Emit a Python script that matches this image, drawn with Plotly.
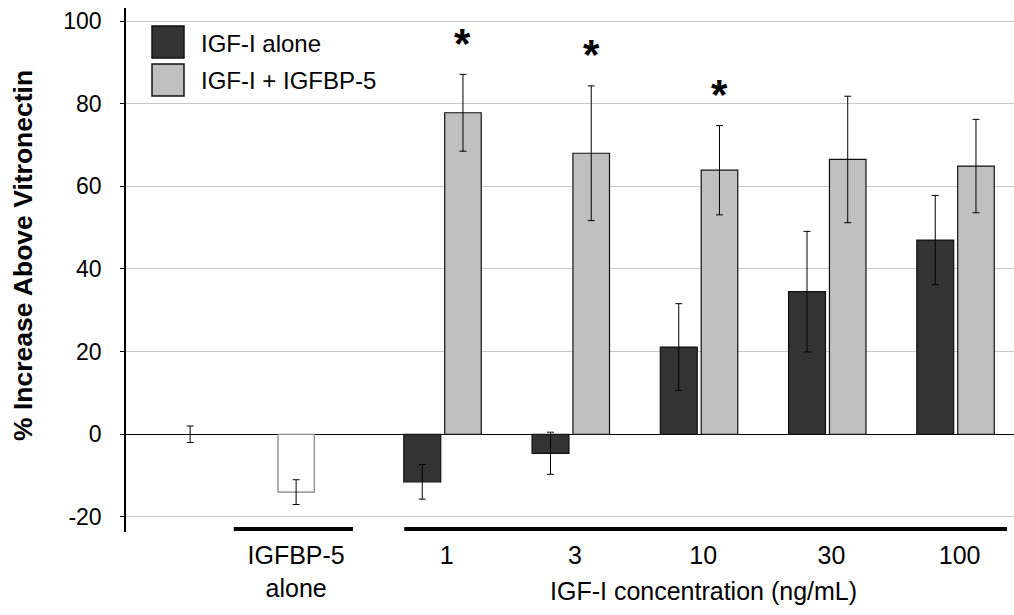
import plotly.graph_objects as go

# ---- data -------------------------------------------------------------
conc_labels = ["1", "3", "10", "30", "100"]          # IGF-I concentration (ng/mL)
igf_alone = [-11.5, -4.6, 21.1, 34.5, 47.0]
igf_alone_err = [4.2, 5.1, 10.5, 14.6, 10.8]
igf_bp5 = [77.8, 68.0, 63.9, 66.5, 64.9]
igf_bp5_err = [9.3, 16.3, 10.8, 15.3, 11.3]
significant = [True, True, True, False, False]

control_value = [0.0]
control_err = [2.0]
bp5_alone_value = [-14.0]
bp5_alone_err = [3.0]

y_ticks = [-20, 0, 20, 40, 60, 80, 100]

# ---- styling -----------------------------------------------------------
DARK = "#333333"
LIGHT = "#c0c0c0"
FONT = "Liberation Sans, Arial, sans-serif"
W, H = 1014, 615
ML, MR, MT, MB = 126, 0, 8, 83

# category slots: 0 = vitronectin control, 1 = IGFBP-5 alone, 2.. = IGF-I doses
conc_x = [2 + i for i in range(len(conc_labels))]
DARK_OFF, DARK_W = -0.334, 0.288
LIGHT_OFF, LIGHT_W = -0.015, 0.285
BP5_OFF, BP5_W = -0.315, 0.283

err_style = dict(type="data", color="black", thickness=1, width=3.5)

fig = go.Figure()

fig.add_trace(go.Scatter(
    x=[0], y=control_value, mode="markers",
    marker=dict(size=1, opacity=0),
    error_y=dict(array=control_err, **err_style),
    showlegend=False, hoverinfo="skip",
))

fig.add_trace(go.Bar(
    x=[1], y=bp5_alone_value, offset=BP5_OFF, width=BP5_W,
    marker=dict(color="white", line=dict(color="#7f7f7f", width=1.2)),
    error_y=dict(array=bp5_alone_err, **err_style),
    showlegend=False, name="IGFBP-5 alone",
))

fig.add_trace(go.Bar(
    x=conc_x, y=igf_alone, offset=DARK_OFF, width=DARK_W,
    marker=dict(color=DARK, line=dict(color="#111111", width=1.2)),
    error_y=dict(array=igf_alone_err, **err_style),
    showlegend=False, name="IGF-I alone",
))

fig.add_trace(go.Bar(
    x=conc_x, y=igf_bp5, offset=LIGHT_OFF, width=LIGHT_W,
    marker=dict(color=LIGHT, line=dict(color="#111111", width=1.2)),
    error_y=dict(array=igf_bp5_err, **err_style),
    showlegend=False, name="IGF-I + IGFBP-5",
))

plot_w = W - ML - MR
plot_h = H - MT - MB


def px_x(px):
    return (px - ML) / plot_w


def px_y(py):
    return (H - MB - py) / plot_h


# significance asterisks over the IGF-I + IGFBP-5 bars
annotations = []
for xc, v, e, sig in zip(conc_x, igf_bp5, igf_bp5_err, significant):
    if sig:
        annotations.append(dict(
            x=xc + LIGHT_OFF + LIGHT_W / 2, y=v + e, xref="x", yref="y",
            text="<b>*</b>", showarrow=False, yanchor="middle", yshift=31,
            font=dict(family=FONT, size=42, color="black"),
        ))

# legend drawn with large square swatches
shapes = []
legend_items = [("IGF-I alone", DARK, 26), ("IGF-I + IGFBP-5", LIGHT, 64)]
for label, color, top in legend_items:
    shapes.append(dict(
        type="rect", xref="paper", yref="paper",
        x0=px_x(152), x1=px_x(184), y0=px_y(top), y1=px_y(top + 32),
        fillcolor=color, line=dict(color="#111111", width=1.5),
    ))
    annotations.append(dict(
        x=px_x(199), y=px_y(top + 17), xref="paper", yref="paper",
        text=label, showarrow=False, xanchor="left", yanchor="middle",
        font=dict(family=FONT, size=24, color="black"),
    ))

# group brackets beneath the categories
brackets = [(1, 1, -0.66, 0.27), (2, 6, -0.33, 0.37)]
for first, last, lpad, rpad in brackets:
    shapes.append(dict(
        type="line", xref="x", yref="paper",
        x0=first + lpad, x1=last + rpad, y0=px_y(529), y1=px_y(529),
        line=dict(color="black", width=4),
    ))

# axis titles
annotations.append(dict(
    x=(conc_x[0] + conc_x[-1]) / 2, y=px_y(591), xref="x", yref="paper",
    text="IGF-I concentration (ng/mL)", showarrow=False,
    xanchor="center", yanchor="middle",
    font=dict(family=FONT, size=25, color="black"),
))
annotations.append(dict(
    x=px_x(23), y=px_y(256), xref="paper", yref="paper",
    text="<b>% Increase Above Vitronectin</b>", showarrow=False, textangle=-90,
    xanchor="center", yanchor="middle",
    font=dict(family=FONT, size=26.5, color="black"),
))

fig.update_layout(
    width=W, height=H,
    margin=dict(l=ML, r=MR, t=MT, b=MB),
    paper_bgcolor="white", plot_bgcolor="white",
    showlegend=False,
    shapes=shapes, annotations=annotations,
    font=dict(family=FONT, color="black"),
)

fig.update_xaxes(
    range=[-0.5, -0.5 + plot_w / 128.25],
    tickvals=[1 + BP5_OFF + BP5_W / 2] + conc_x,
    ticktext=["IGFBP-5<br>alone"] + conc_labels,
    tickfont=dict(family=FONT, size=25, color="black"),
    showgrid=False, zeroline=False, showline=False, ticks="",
    ticklabelstandoff=6,
)

fig.update_yaxes(
    range=[-23.65, 103.15],
    tickvals=y_ticks,
    ticktext=[str(v) for v in y_ticks],
    tickfont=dict(family=FONT, size=23, color="black"),
    showgrid=True, gridcolor="#c8c8c8", gridwidth=1.3,
    zeroline=True, zerolinecolor="black", zerolinewidth=1.3,
    showline=True, linecolor="black", linewidth=1.5,
    ticks="outside", ticklen=4, tickcolor="black",
    ticklabelstandoff=14,
)

fig.write_html("out.html")
